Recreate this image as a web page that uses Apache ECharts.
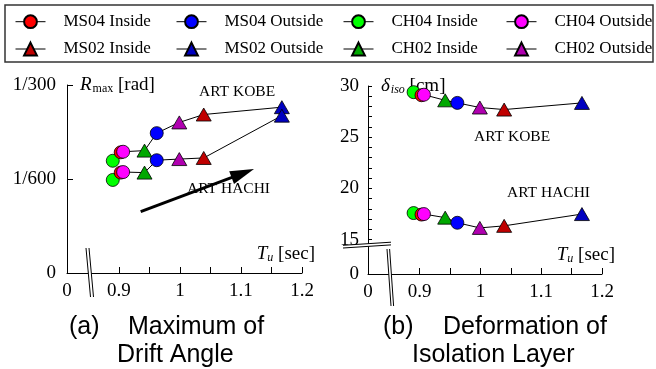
<!DOCTYPE html>
<html><head><meta charset="utf-8">
<script src="https://cdn.jsdelivr.net/npm/echarts@6/dist/echarts.min.js"></script>
<style>html,body{margin:0;padding:0;background:#fff}#c{width:656px;height:369px}</style>
</head><body><div id="c"></div>
<script>
// ---- data ----
const seriesNames = ['MS04 Inside','MS04 Outside','CH04 Inside','CH04 Outside','MS02 Inside','MS02 Outside','CH02 Inside','CH02 Outside'];
const periodTu   = [0.903, 0.962, 0.890, 0.907, 1.039, 1.167, 0.942, 0.999];
const driftKobe  = [0.00214, 0.00248, 0.00199, 0.00215, 0.00281, 0.00294, 0.00217, 0.00267];
const driftHachi = [0.00178, 0.00200, 0.00165, 0.00179, 0.00204, 0.00279, 0.00178, 0.00202];
const isoKobe    = [29.10, 28.35, 29.40, 29.15, 27.70, 28.35, 28.60, 27.90];
const isoHachi   = [17.45, 16.65, 17.60, 17.50, 16.35, 17.50, 17.15, 16.15];
const xTickLabels = [0.9, 1, 1.1, 1.2];
const xTicks = [0.85, 0.9, 0.95, 1, 1.05, 1.1, 1.15, 1.2];
const driftTicks = [0, 1/600, 1/300];
const driftTickLabels = ['0', '1/600', '1/300'];
const isoTicks = [15, 20, 25, 30];

// ---- styling ----
const colors = ['#FF0000','#0000FF','#00FF00','#FF00FF','#C00000','#0000C0','#00A800','#B000B0'];
const symbols = ['circle','circle','circle','circle','triangle','triangle','triangle','triangle'];
const drawOrder = [2,0,3,6,1,7,4,5];
const serif = 'Liberation Serif';
const sans = 'Liberation Sans';
const xMin = 0.815, isoMin = 11.65;

const order = periodTu.map((v,i)=>i).sort((a,b)=>periodTu[a]-periodTu[b]);

const chart = echarts.init(document.getElementById('c'), null, {renderer:'canvas'});

function xAxis(gi){
  return {
    type:'value', gridIndex:gi, min:xMin, max:1.2,
    axisLine:{show:true, lineStyle:{color:'#000', width:1}},
    splitLine:{show:false},
    axisTick:{show:true, inside:true, length:6, customValues:xTicks, lineStyle:{color:'#000'}},
    axisLabel:{show:true, customValues:[xMin].concat(xTickLabels), margin:9,
      fontFamily:serif, fontSize:19, color:'#000',
      formatter:v => v < 0.85 ? '0' : String(v)},
    name:'{i|T}{s|u}{n| [sec]}', nameLocation:'end', nameGap:13,
    nameTextStyle:{align:'right', verticalAlign:'bottom', padding:[0,0,9,0],
      rich:{i:{fontFamily:serif, fontStyle:'italic', fontSize:19, color:'#000'},
            s:{fontFamily:serif, fontStyle:'italic', fontSize:12, color:'#000', padding:[8,0,0,0]},
            n:{fontFamily:serif, fontSize:19, color:'#000'}}}
  };
}

const option = {
  animation:false,
  grid:[
    {left:67, top:85, width:235, height:188},
    {left:368, top:86, width:234, height:188}
  ],
  xAxis:[xAxis(0), xAxis(1)],
  yAxis:[
    {type:'value', gridIndex:0, min:0, max:1/300,
     axisLine:{show:true, lineStyle:{color:'#000'}}, splitLine:{show:false},
     axisTick:{show:true, inside:true, length:6, customValues:driftTicks, lineStyle:{color:'#000'}},
     axisLabel:{customValues:driftTicks, margin:11, fontFamily:serif, fontSize:19, color:'#000',
       formatter:v => driftTickLabels[driftTicks.findIndex(t=>Math.abs(t-v)<1e-7)]},
     name:'{i|R}{s|max}{n| [rad]}', nameLocation:'end', nameGap:0,
     nameTextStyle:{align:'left', verticalAlign:'middle', padding:[0,0,0,13],
       rich:{i:{fontFamily:serif, fontStyle:'italic', fontSize:19, color:'#000'},
             s:{fontFamily:serif, fontSize:12, color:'#000', padding:[8,0,0,1]},
             n:{fontFamily:serif, fontSize:19, color:'#000'}}}},
    {type:'value', gridIndex:1, min:isoMin, max:30,
     axisLine:{show:true, lineStyle:{color:'#000'}}, splitLine:{show:false},
     axisTick:{show:true, inside:true, length:4,
       customValues:Array.from({length:16},(_,k)=>15+k), lineStyle:{color:'#000'}},
     axisLabel:{customValues:[isoMin].concat(isoTicks), margin:9, fontFamily:serif, fontSize:19, color:'#000',
       formatter:v => v < 14 ? '0' : String(v)},
     name:'{i|δ}{s|iso}{n| [cm]}', nameLocation:'end', nameGap:0,
     nameTextStyle:{align:'left', verticalAlign:'middle', padding:[0,0,0,13],
       rich:{i:{fontFamily:serif, fontStyle:'italic', fontSize:19, color:'#000'},
             s:{fontFamily:serif, fontStyle:'italic', fontSize:12, color:'#000', padding:[8,0,0,1]},
             n:{fontFamily:serif, fontSize:19, color:'#000'}}}}
  ],
  legend: [],
  series: [],
  graphic: []
};

// connecting lines
[[driftKobe,0],[driftHachi,0],[isoKobe,1],[isoHachi,1]].forEach(([arr,gi])=>{
  option.series.push({type:'line', xAxisIndex:gi, yAxisIndex:gi, symbol:'none', z:1,
    lineStyle:{color:'#000', width:1}, silent:true,
    data: order.map(i=>[periodTu[i], arr[i]])});
});
// markers
drawOrder.forEach((i,k)=>{
  [[driftKobe,driftHachi,0],[isoKobe,isoHachi,1]].forEach(([a,b,gi])=>{
    option.series.push({type:'line', name:seriesNames[i], xAxisIndex:gi, yAxisIndex:gi,
      symbol:symbols[i], symbolSize: symbols[i]==='circle'?13:[15,13], showSymbol:true,
      z:2+k, lineStyle:{width:0, opacity:0, color:'#000'},
      itemStyle:{color:colors[i], borderColor:'#000', borderWidth:0.8},
      data:[[periodTu[i], a[i]], [periodTu[i], b[i]]]});
  });
});
// legends
const legX = [30, 191, 358, 521];
const legY = [21.7, 49];
seriesNames.forEach((n,i)=>{
  const col = i%4, row = Math.floor(i/4);
  option.legend.push({data:[n], left:legX[col]-15, top:legY[row]-10, padding:0,
    itemWidth:30, itemHeight:16, selectedMode:false,
    lineStyle:{color:'#000', width:1, opacity:1},
    textStyle:{fontFamily:serif, fontSize:17, lineHeight:20, color:'#000', padding:[0,0,0,13]}});
});
// graphics: legend frame, annotations, breaks, arrow, captions
const G = option.graphic;
G.push({type:'rect', shape:{x:5, y:5, width:648, height:57}, style:{fill:'none', stroke:'#333', lineWidth:1.5}, z:0});
function txt(x,y,t,fs,fam,align){ G.push({type:'text', x:x, y:y, z:50, style:{text:t, fontFamily:fam||serif, fontSize:fs, fill:'#000', align:align||'left', verticalAlign:'middle'}}); }
txt(199, 91.7, 'ART KOBE', 15.5);
txt(187, 189, 'ART HACHI', 15.5);
txt(474, 136.7, 'ART KOBE', 15.5);
txt(507, 193, 'ART HACHI', 15.5);
// arrow
G.push({type:'line', z:60, shape:{x1:140.7, y1:211.7, x2:236, y2:175.8}, style:{stroke:'#000', lineWidth:3}});
G.push({type:'polygon', z:60, shape:{points:[[254,169],[229.2,171.3],[234,184]]}, style:{fill:'#000'}});
// breaks
function brk(p1,p2,p3,p4){
  G.push({type:'polygon', z:70, shape:{points:[p1,p2,p4,p3]}, style:{fill:'#fff'}});
  G.push({type:'line', z:71, shape:{x1:p1[0],y1:p1[1],x2:p2[0],y2:p2[1]}, style:{stroke:'#000', lineWidth:1}});
  G.push({type:'line', z:71, shape:{x1:p3[0],y1:p3[1],x2:p4[0],y2:p4[1]}, style:{stroke:'#000', lineWidth:1}});
}
brk([86,248],[90.5,297],[89,248],[93.5,297]);
brk([387,249],[391,306],[389.6,249],[393.6,306]);
brk([343,245.3],[391,242.2],[343,248],[391,244.9]);
// captions
txt(69, 327, '(a)', 25, sans);
txt(128, 327, 'Maximum of', 25, sans);
txt(117, 355, 'Drift Angle', 25, sans);
txt(383, 327, '(b)', 25, sans);
txt(443, 327, 'Deformation of', 25, sans);
txt(412, 355, 'Isolation Layer', 25, sans);

chart.setOption(option);
</script></body></html>
